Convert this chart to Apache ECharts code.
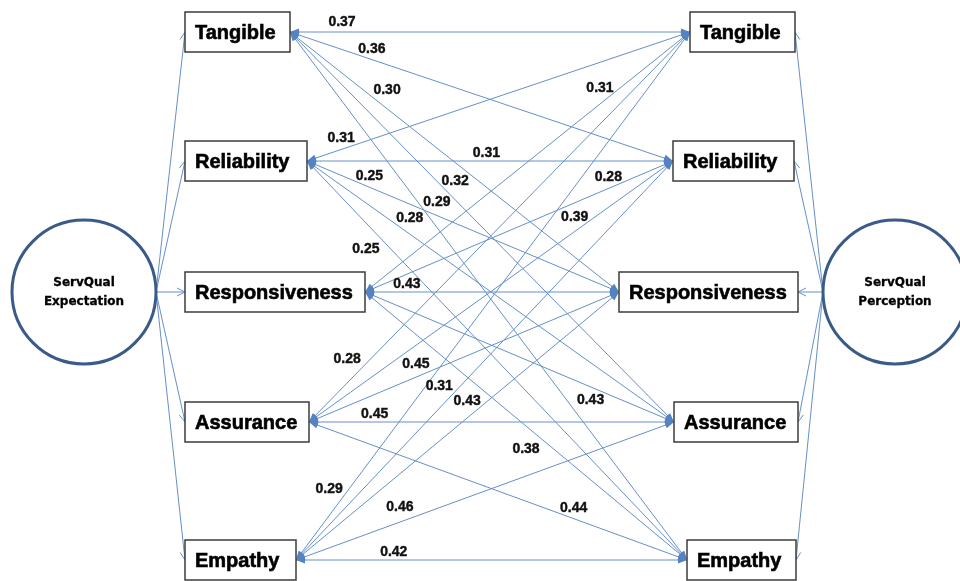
<!DOCTYPE html>
<html>
<head>
<meta charset="utf-8">
<script src="https://cdn.jsdelivr.net/npm/echarts@6/dist/echarts.min.js"></script>
<style>
html, body { margin: 0; padding: 0; background: #fff; }
#chart { width: 960px; height: 581px; }
</style>
</head>
<body>
<div id="chart"></div>
<script>
// constructs, same order on both sides
const constructs = ["Tangible", "Reliability", "Responsiveness", "Assurance", "Empathy"];
const latentNames = ["ServQual\nExpectation", "ServQual\nPerception"];

// coefficients: expectation construct (row) <-> perception construct (column)
const tangibleRow = [0.37, 0.36, 0.30, 0.32, 0.29];
const reliabilityRow = [0.31, 0.31, 0.25, 0.28, 0.25];
const responsivenessRow = [0.31, 0.28, 0.43, 0.43, 0.38];
const assuranceRow = [0.28, 0.39, 0.45, 0.45, 0.44];
const empathyRow = [0.29, 0.31, 0.43, 0.46, 0.42];
const coefRows = [tangibleRow, reliabilityRow, responsivenessRow, assuranceRow, empathyRow];

// layout of the diagram
const rowY = [32, 161, 292, 422, 560];
const boxH = 40;
const leftBoxX = 185;
const leftBoxW = [105, 122, 180, 124, 111];
const rightBoxX = [690, 673, 619, 674, 687];
const rightBoxW = [105, 121, 179, 124, 109];
const circleCenters = [[84, 292], [895, 292]];
const circleR = 72;
// where each coefficient sits: fraction along its edge, vertical shift
const labelPlace = [
    [[0.13, -10], [0.214, -10], [0.295, -19], [0.43, -19], [0.37, -25]],
    [[0.089, -11], [0.49, -8], [0.20, -11], [0.28, -16], [0.155, 26]],
    [[0.723, -16], [0.79, -11], [0.165, -8], [0.73, 13], [0.50, 23]],
    [[0.10, -24], [0.73, -14], [0.345, -13], [0.18, -8], [0.70, -10]],
    [[0.084, -27], [0.38, -22], [0.53, -17], [0.275, -15], [0.25, -8]]
];

const lineColor = "#6690c8";
const headColor = "#5583c2";
const boxBorder = "#3c3c3c";
const circleColor = "#3a5a87";

function leftAnchor(i) { return [leftBoxX + leftBoxW[i], rowY[i]]; }
function rightAnchor(j) { return [rightBoxX[j], rowY[j]]; }

function headPoints(tip, from, len, half) {
    const dx = tip[0] - from[0], dy = tip[1] - from[1];
    const d = Math.hypot(dx, dy);
    const ux = dx / d, uy = dy / d;
    const bx = tip[0] - ux * len, by = tip[1] - uy * len;
    return [[bx - uy * half, by + ux * half], tip, [bx + uy * half, by - ux * half]];
}

const edgeData = [];
coefRows.forEach((row, i) => {
    row.forEach((v, j) => edgeData.push([i, j, v]));
});

function renderEdge(params, api) {
    const i = api.value(0), j = api.value(1);
    const a = api.coord(leftAnchor(i));
    const b = api.coord(rightAnchor(j));
    return {
        type: "group",
        children: [
            { type: "line", shape: { x1: a[0], y1: a[1], x2: b[0], y2: b[1] },
              style: { stroke: lineColor, lineWidth: 1 } },
            { type: "polygon", shape: { points: headPoints(a, b, 9, 3.5) }, style: { fill: headColor } },
            { type: "polygon", shape: { points: headPoints(b, a, 9, 3.5) }, style: { fill: headColor } }
        ]
    };
}

function renderLabel(params, api) {
    const i = api.value(0), j = api.value(1);
    const place = labelPlace[i][j];
    const a = leftAnchor(i), b = rightAnchor(j);
    const p = api.coord([a[0] + (b[0] - a[0]) * place[0], a[1] + (b[1] - a[1]) * place[0] + place[1]]);
    return {
        type: "text",
        x: p[0], y: p[1],
        style: {
            text: api.value(2).toFixed(2),
            fill: "#111",
            stroke: "#111",
            lineWidth: 0.4,
            font: "bold 14px 'Liberation Sans', Arial, sans-serif",
            align: "center",
            verticalAlign: "middle"
        }
    };
}

// boxes: [side, index]
const boxData = [];
[0, 1].forEach(side => constructs.forEach((c, k) => boxData.push([side, k])));

function renderBox(params, api) {
    const side = api.value(0), k = api.value(1);
    const x = side === 0 ? leftBoxX : rightBoxX[k];
    const w = side === 0 ? leftBoxW[k] : rightBoxW[k];
    const p0 = api.coord([x, rowY[k] - boxH / 2]);
    const p1 = api.coord([x + w, rowY[k] + boxH / 2]);
    return {
        type: "group",
        children: [
            { type: "rect", shape: { x: p0[0], y: p0[1], width: p1[0] - p0[0], height: p1[1] - p0[1] },
              style: { fill: "#fff", stroke: boxBorder, lineWidth: 1.5 } },
            { type: "text", x: p0[0] + 10, y: (p0[1] + p1[1]) / 2 + 1,
              style: { text: constructs[k], fill: "#000", stroke: "#000", lineWidth: 0.6,
                       font: "bold 20px 'Liberation Sans', Arial, sans-serif",
                       align: "left", verticalAlign: "middle" } }
        ]
    };
}

// spokes from each latent circle to its constructs
const spokeData = boxData.slice();

function renderSpoke(params, api) {
    const side = api.value(0), k = api.value(1);
    const c = circleCenters[side];
    const start = api.coord([c[0] + (side === 0 ? circleR : -circleR), c[1]]);
    const end = api.coord(side === 0 ? [leftBoxX, rowY[k]] : [rightBoxX[k] + rightBoxW[k], rowY[k]]);
    return {
        type: "group",
        children: [
            { type: "line", shape: { x1: start[0], y1: start[1], x2: end[0], y2: end[1] },
              style: { stroke: lineColor, lineWidth: 1 } },
            { type: "polyline", shape: { points: headPoints(end, start, 8, 4) },
              style: { stroke: lineColor, lineWidth: 1, fill: null } }
        ]
    };
}

function renderCircle(params, api) {
    const side = api.value(0);
    const c = api.coord(circleCenters[side]);
    const e = api.coord([circleCenters[side][0] + circleR, circleCenters[side][1]]);
    return {
        type: "group",
        children: [
            { type: "circle", shape: { cx: c[0], cy: c[1], r: e[0] - c[0] },
              style: { fill: "#fff", stroke: circleColor, lineWidth: 3 } },
            { type: "text", x: c[0], y: c[1],
              style: { text: latentNames[side], fill: "#000", stroke: "#000", lineWidth: 0.3,
                       font: "bold 12px 'DejaVu Sans', sans-serif", lineHeight: 19,
                       align: "center", verticalAlign: "middle" } }
        ]
    };
}

const chart = echarts.init(document.getElementById("chart"));
chart.setOption({
    animation: false,
    backgroundColor: "#fff",
    grid: { left: 0, right: 0, top: 0, bottom: 0 },
    xAxis: { type: "value", min: 0, max: 960, show: false },
    yAxis: { type: "value", min: 0, max: 581, inverse: true, show: false },
    series: [
        { type: "custom", name: "paths", coordinateSystem: "cartesian2d", clip: false,
          renderItem: renderEdge, data: edgeData, z: 1 },
        { type: "custom", name: "spokes", coordinateSystem: "cartesian2d", clip: false,
          renderItem: renderSpoke, data: spokeData, z: 1 },
        { type: "custom", name: "latent", coordinateSystem: "cartesian2d", clip: false,
          renderItem: renderCircle, data: [[0], [1]], z: 2 },
        { type: "custom", name: "constructs", coordinateSystem: "cartesian2d", clip: false,
          renderItem: renderBox, data: boxData, z: 3 },
        { type: "custom", name: "coefficients", coordinateSystem: "cartesian2d", clip: false,
          renderItem: renderLabel, data: edgeData, z: 4 }
    ]
});
</script>
</body>
</html>
